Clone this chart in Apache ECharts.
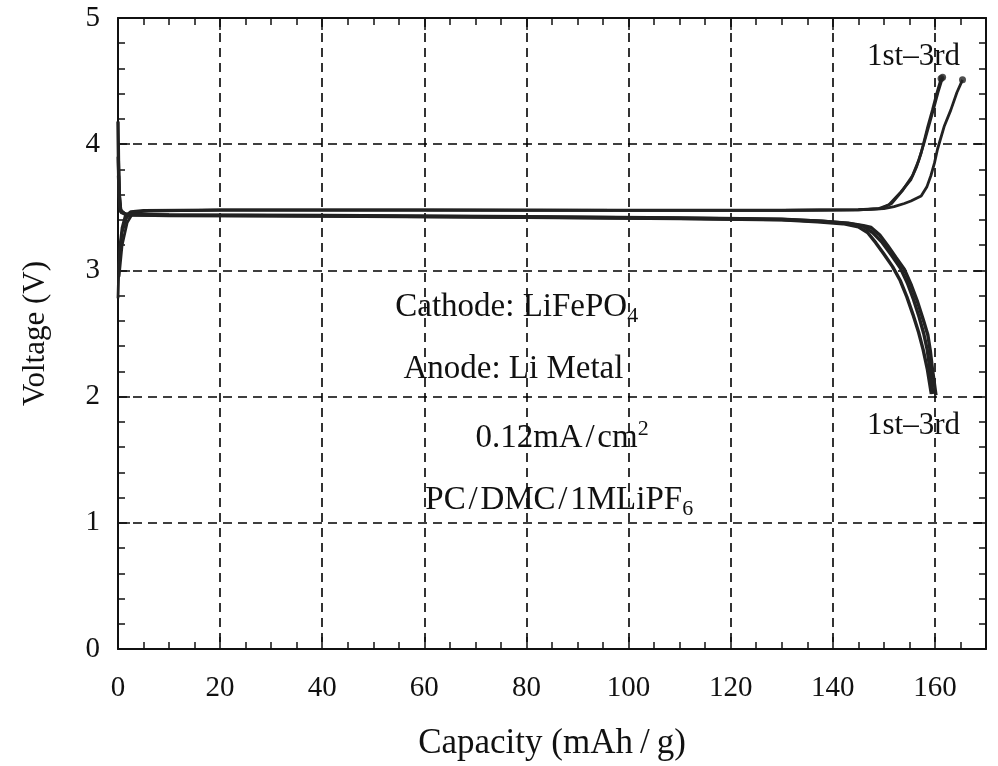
<!DOCTYPE html>
<html>
<head>
<meta charset="utf-8">
<script src="https://cdn.jsdelivr.net/npm/echarts@6/dist/echarts.min.js"></script>
<style>
  html, body { margin: 0; padding: 0; background: #fff; }
  #chart { width: 998px; height: 766px; }
</style>
</head>
<body>
<div id="chart"></div>
<script>
// Charge curves, cycles 1-3: [capacity mAh/g, voltage V]
var charge1 = [[0,2.78],[0.15,3.0],[0.4,3.2],[0.8,3.34],[1.4,3.43],[2.5,3.465],[5,3.475],[20,3.48],[60,3.48],[100,3.478],[130,3.478],[145,3.482],[149,3.49],[151,3.52],[153.3,3.62],[155.3,3.72],[156.4,3.82],[157.3,3.93],[158.6,4.14],[159.5,4.27],[160.2,4.38],[161.2,4.52]];
var charge2 = [[0.1,3.0],[0.35,3.15],[0.8,3.3],[1.6,3.41],[2.6,3.46],[5,3.47],[20,3.478],[60,3.478],[100,3.476],[130,3.476],[145,3.48],[149.5,3.49],[151.5,3.53],[153.6,3.63],[155.6,3.75],[156.8,3.87],[157.8,4.0],[158.9,4.16],[159.8,4.29],[160.6,4.41],[161.5,4.53]];
var charge3 = [[0.2,2.95],[0.8,3.2],[1.8,3.38],[3,3.46],[6,3.472],[20,3.478],[60,3.478],[100,3.476],[130,3.476],[145,3.48],[150,3.49],[152,3.505],[154,3.53],[155.3,3.55],[157.3,3.59],[158.4,3.66],[159.2,3.75],[159.9,3.85],[160.5,3.96],[161.8,4.14],[163.1,4.27],[164.3,4.41],[165.4,4.51]];

// Discharge curves, cycles 1-3
var discharge1 = [[0,4.18],[0.1,3.85],[0.25,3.6],[0.5,3.47],[1.5,3.445],[10,3.44],[40,3.435],[80,3.425],[110,3.415],[130,3.405],[137.6,3.39],[143,3.375],[146,3.355],[147.5,3.34],[149.2,3.28],[150.7,3.2],[152.4,3.1],[154,3.01],[155.4,2.88],[156.6,2.75],[157.7,2.61],[158.6,2.49],[159.1,2.36],[159.5,2.22],[160.2,2.01]];
var discharge2 = [[0.05,3.9],[0.2,3.62],[0.45,3.48],[1.5,3.44],[10,3.435],[40,3.43],[80,3.42],[110,3.41],[130,3.4],[137,3.385],[142,3.37],[145,3.345],[146.8,3.3],[148.4,3.22],[150,3.13],[151.7,3.03],[153.2,2.92],[154.5,2.79],[155.7,2.65],[156.8,2.51],[157.7,2.37],[158.5,2.22],[159.3,2.02]];
var discharge3 = [[0.1,3.75],[0.3,3.55],[0.6,3.46],[2,3.44],[10,3.438],[40,3.432],[80,3.423],[110,3.413],[130,3.403],[138,3.39],[143,3.372],[146,3.35],[147.8,3.3],[149.7,3.22],[151.5,3.12],[153.2,3.02],[154.6,2.9],[155.8,2.77],[156.9,2.63],[157.8,2.5],[158.5,2.37],[159,2.22],[159.6,2.02]];

// Axis settings
var xMin = 0, xMax = 170, xMajor = 20, xMinor = 5;
var yMin = 0, yMax = 5, yMajor = 1;

// Text annotations: [capacity, voltage, rich text]
var notes = [
  [54.3, 2.71, 'Cathode: LiFePO{sub|4}'],
  [55.9, 2.22, 'Anode: Li Metal'],
  [70.0, 1.67, '0.12mA\u200a/\u200acm{sup|2}'],
  [60.2, 1.18, 'PC\u200a/\u200aDMC\u200a/\u200a1MLiPF{sub|6}']
];
// Cycle range labels beside the charge and discharge ends
var cycleNotes = [
  [146.7, 4.69, '1st\u20133rd'],
  [146.7, 1.77, '1st\u20133rd']
];

var FONT = "'Liberation Serif', 'Times New Roman', serif";
var INK = '#111';
var LINE = '#222';

var chart = echarts.init(document.getElementById('chart'), null, { renderer: 'canvas' });

function curve(name, data, width) {
  return {
    name: name, type: 'line', data: data, xAxisIndex: 0, yAxisIndex: 0,
    showSymbol: false, symbol: 'none', smooth: false,
    lineStyle: { color: LINE, width: width }, z: 5, silent: true
  };
}

var chargeEnds = [charge1, charge2, charge3].map(function (c) { return c[c.length - 1]; });

function majorX(pos, show) {
  return {
    type: 'value', position: pos, min: xMin, max: xMax, interval: xMajor,
    axisLine: { show: true, onZero: false, lineStyle: { color: INK, width: 2 } },
    axisTick: { show: true, inside: true, length: 12, lineStyle: { color: INK, width: 1.5 } },
    axisLabel: { show: show, showMaxLabel: false, margin: 25, color: INK, fontFamily: FONT, fontSize: 29 },
    splitLine: { show: show, lineStyle: { color: '#000', type: [9, 6], width: 1.6 } },
    name: show ? 'Capacity (mAh\u2009/\u2009g)' : '', nameLocation: 'middle', nameGap: 77,
    nameTextStyle: { color: INK, fontFamily: FONT, fontSize: 35 }
  };
}
function minorX(pos) {
  return {
    type: 'value', position: pos, min: xMin, max: xMax, interval: xMinor,
    axisLine: { show: false, onZero: false },
    axisTick: { show: true, inside: true, length: 7, lineStyle: { color: INK, width: 1.5 } },
    axisLabel: { show: false }, splitLine: { show: false }
  };
}
function yAxisDef(pos, show) {
  return {
    type: 'value', position: pos, min: yMin, max: yMax, interval: yMajor,
    axisLine: { show: true, onZero: false, lineStyle: { color: INK, width: 2 } },
    axisTick: { show: true, inside: true, length: 12, lineStyle: { color: INK, width: 1.5 } },
    minorTick: { show: true, splitNumber: 5, length: 7, lineStyle: { color: INK, width: 1.5 } },
    axisLabel: { show: show, margin: 18, color: INK, fontFamily: FONT, fontSize: 29 },
    splitLine: { show: show, lineStyle: { color: '#000', type: [9, 6], width: 1.6 } },
    name: show ? 'Voltage (V)' : '', nameLocation: 'middle', nameGap: 67,
    nameTextStyle: { color: INK, fontFamily: FONT, fontSize: 31 }
  };
}

chart.setOption({
  animation: false,
  backgroundColor: '#fff',
  grid: { left: 118, right: 12, top: 18, bottom: 114, containLabel: false },
  xAxis: [majorX('bottom', true), minorX('bottom'), majorX('top', false), minorX('top')],
  yAxis: [yAxisDef('left', true), yAxisDef('right', false)],
  series: [
    curve('charge1', charge1, 2.8), curve('charge2', charge2, 2.8), curve('charge3', charge3, 2.8),
    curve('discharge1', discharge1, 3.4), curve('discharge2', discharge2, 3.4), curve('discharge3', discharge3, 3.4),
    {
      name: 'end', type: 'scatter', data: chargeEnds, xAxisIndex: 0, yAxisIndex: 0,
      symbol: 'circle', symbolSize: 7, itemStyle: { color: LINE }, z: 6, silent: true
    }
  ]
});

// Place annotations at data coordinates
function textAt(n, size) {
  var p = chart.convertToPixel({ xAxisIndex: 0, yAxisIndex: 0 }, [n[0], n[1]]);
  return {
    type: 'text', x: p[0], y: p[1], z: 10, silent: true,
    style: {
      text: n[2], fill: INK, fontFamily: FONT, fontSize: size,
      align: 'left', verticalAlign: 'middle', lineHeight: 40,
      rich: {
        sub: { fontFamily: FONT, fontSize: 22, lineHeight: 21, verticalAlign: 'bottom', fill: INK },
        sup: { fontFamily: FONT, fontSize: 22, lineHeight: 21, verticalAlign: 'top', fill: INK }
      }
    }
  };
}
var graphics = notes.map(function (n) { return textAt(n, 33); })
  .concat(cycleNotes.map(function (n) { return textAt(n, 31); }));
chart.setOption({ graphic: graphics });
</script>
</body>
</html>
